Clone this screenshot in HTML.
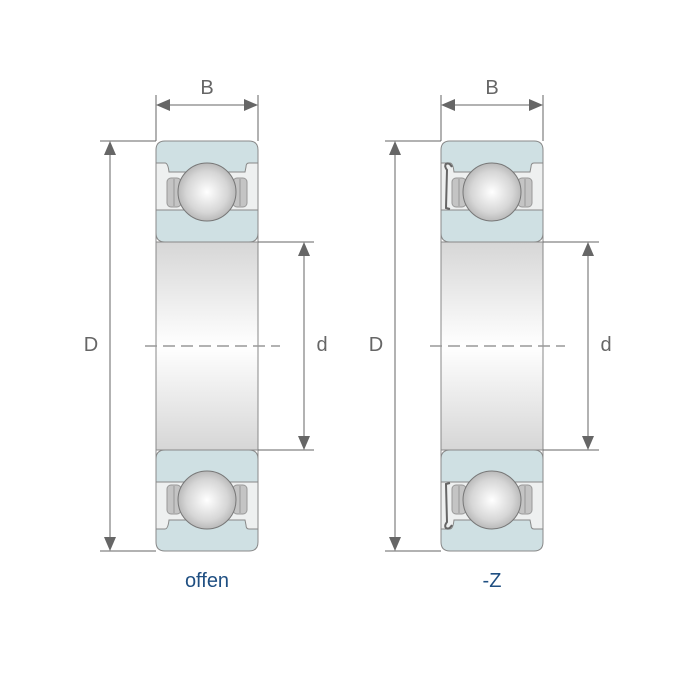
<!DOCTYPE html>
<html><head><style>html,body{margin:0;padding:0;background:#fff}svg{display:block}</style></head>
<body>
<svg width="700" height="700" viewBox="0 0 700 700" xmlns="http://www.w3.org/2000/svg">
<defs>
<linearGradient id="bore" x1="0" y1="0" x2="0" y2="1">
<stop offset="0" stop-color="#d6d6d6"/><stop offset="0.5" stop-color="#ffffff"/><stop offset="1" stop-color="#d6d6d6"/>
</linearGradient>
<radialGradient id="ball" cx="0.5" cy="0.5" r="0.55">
<stop offset="0" stop-color="#ffffff"/><stop offset="0.65" stop-color="#d6d6d6"/><stop offset="1" stop-color="#b0b0b0"/>
</radialGradient>
<g id="half">
<rect x="156" y="160" width="102" height="55" fill="#eef0f0"/>
<path d="M156,150 Q156,141 165,141 L249,141 Q258,141 258,150 L258,163 L249,163 Q246,163 246,167 L245,172 L169,172 Q168,163 165,163 L156,163 Z" fill="#cfe0e3" stroke="#888" stroke-width="1"/>
<path d="M156,210 L258,210 L258,233 Q258,242 249,242 L165,242 Q156,242 156,233 Z" fill="#cfe0e3" stroke="#888" stroke-width="1"/>
<rect x="167" y="178" width="14" height="29" rx="4" fill="#c4c4c4" stroke="#999" stroke-width="1"/>
<rect x="233" y="178" width="14" height="29" rx="4" fill="#c4c4c4" stroke="#999" stroke-width="1"/>
<line x1="174" y1="179" x2="174" y2="206" stroke="#999"/>
<line x1="240" y1="179" x2="240" y2="206" stroke="#999"/>
<circle cx="207" cy="192" r="29" fill="url(#ball)" stroke="#777" stroke-width="1"/>
</g>
<g id="bear">
<rect x="156" y="242" width="102" height="208" fill="url(#bore)" stroke="#888"/>
<use href="#half"/>
<use href="#half" transform="translate(0,692) scale(1,-1)"/>
<line x1="156" y1="150" x2="156" y2="542" stroke="#888"/>
<line x1="258" y1="150" x2="258" y2="542" stroke="#888"/>
</g>
<path id="seal" d="M452,167 Q449,162 446,164 Q444,166 447,170 L446,208 L450,209" fill="none" stroke="#666" stroke-width="2"/>
</defs>

<use href="#bear"/>
<use href="#bear" transform="translate(285,0)"/>
<use href="#seal"/>
<use href="#seal" transform="translate(0,692) scale(1,-1)"/>

<g stroke="#666" stroke-width="1" fill="none">
<line x1="145" y1="346" x2="280" y2="346" stroke="#999" stroke-width="1.5" stroke-dasharray="12,6"/>
<line x1="430" y1="346" x2="565" y2="346" stroke="#999" stroke-width="1.5" stroke-dasharray="12,6"/>
<line x1="156" y1="95" x2="156" y2="141"/><line x1="258" y1="95" x2="258" y2="141"/>
<line x1="160" y1="105" x2="254" y2="105"/>
<line x1="100" y1="141" x2="156" y2="141"/><line x1="100" y1="551" x2="156" y2="551"/>
<line x1="110" y1="145" x2="110" y2="547"/>
<line x1="258" y1="242" x2="314" y2="242"/><line x1="258" y1="450" x2="314" y2="450"/>
<line x1="304" y1="246" x2="304" y2="446"/>
<line x1="441" y1="95" x2="441" y2="141"/><line x1="543" y1="95" x2="543" y2="141"/>
<line x1="445" y1="105" x2="539" y2="105"/>
<line x1="385" y1="141" x2="441" y2="141"/><line x1="385" y1="551" x2="441" y2="551"/>
<line x1="395" y1="145" x2="395" y2="547"/>
<line x1="543" y1="242" x2="599" y2="242"/><line x1="543" y1="450" x2="599" y2="450"/>
<line x1="588" y1="246" x2="588" y2="446"/>
</g>
<g fill="#666">
<path d="M156,105 l14,-6 v12z"/><path d="M258,105 l-14,-6 v12z"/>
<path d="M110,141 l-6,14 h12z"/><path d="M110,551 l-6,-14 h12z"/>
<path d="M304,242 l-6,14 h12z"/><path d="M304,450 l-6,-14 h12z"/>
<path d="M441,105 l14,-6 v12z"/><path d="M543,105 l-14,-6 v12z"/>
<path d="M395,141 l-6,14 h12z"/><path d="M395,551 l-6,-14 h12z"/>
<path d="M588,242 l-6,14 h12z"/><path d="M588,450 l-6,-14 h12z"/>
</g>
<g font-family="Liberation Sans, sans-serif" font-size="20" fill="#666" text-anchor="middle">
<text x="207" y="94">B</text><text x="492" y="94">B</text>
<text x="91" y="351">D</text><text x="376" y="351">D</text>
<text x="322" y="351">d</text><text x="606" y="351">d</text>
</g>
<g font-family="Liberation Sans, sans-serif" font-size="20" fill="#1f4f82" text-anchor="middle">
<text x="207" y="587">offen</text><text x="492" y="587">-Z</text>
</g>
</svg>
</body></html>
